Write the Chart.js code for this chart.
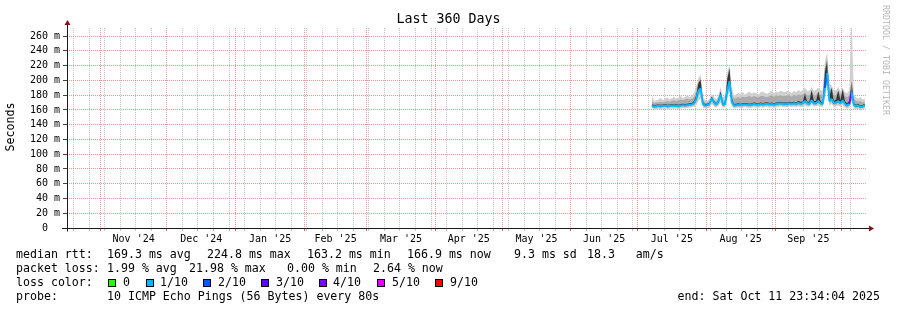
<!DOCTYPE html>
<html>
<head>
<meta charset="utf-8">
<script src="https://cdn.jsdelivr.net/npm/chart.js@4.4.1/dist/chart.umd.min.js"></script>
<style>
  body { margin: 0; background: #fff; }
  #wrap { position: relative; width: 897px; height: 310px; overflow: hidden;
          font-family: "DejaVu Sans Mono", monospace; color: #000; }
  #chart { position: absolute; left: 0; top: 0; }
  .t { position: absolute; white-space: pre; font-size: 11.6px; line-height: 14px; }
  .sq { position: absolute; width: 6px; height: 6px; border: 1px solid #000; top: 279px; }
</style>
</head>
<body>
<div id="wrap">
  <canvas id="chart" width="897" height="310"></canvas>

  <div class="t" style="left:0;width:897px;top:11px;text-align:center;font-size:13.3px;line-height:16px;">Last 360 Days</div>
  <div class="t" style="left:-19px;top:120px;width:58px;text-align:center;transform:rotate(-90deg);">Seconds</div>
  <div class="t" style="left:831px;top:55px;width:110px;text-align:center;font-size:8.3px;line-height:10px;color:#b8b8b8;transform:rotate(90deg);">RRDTOOL / TOBI OETIKER</div>

  <!-- legend -->
  <div class="t" style="left:16px;top:247px;">median rtt:</div>
  <div class="t" style="left:107px;top:247px;">169.3 ms avg</div>
  <div class="t" style="left:207px;top:247px;">224.8 ms max</div>
  <div class="t" style="left:307px;top:247px;">163.2 ms min</div>
  <div class="t" style="left:407px;top:247px;">166.9 ms now</div>
  <div class="t" style="left:514px;top:247px;">9.3 ms sd</div>
  <div class="t" style="left:587px;top:247px;">18.3   am/s</div>

  <div class="t" style="left:16px;top:261px;">packet loss:</div>
  <div class="t" style="left:107px;top:261px;">1.99 % avg</div>
  <div class="t" style="left:189px;top:261px;">21.98 % max</div>
  <div class="t" style="left:287px;top:261px;">0.00 % min</div>
  <div class="t" style="left:373px;top:261px;">2.64 % now</div>

  <div class="t" style="left:16px;top:275px;">loss color:</div>
  <div class="sq" style="left:108px;background:#26ff00;"></div><div class="t" style="left:123px;top:275px;">0</div>
  <div class="sq" style="left:146px;background:#00b8ff;"></div><div class="t" style="left:160px;top:275px;">1/10</div>
  <div class="sq" style="left:203px;background:#0059ff;"></div><div class="t" style="left:218px;top:275px;">2/10</div>
  <div class="sq" style="left:261px;background:#5e00ff;"></div><div class="t" style="left:276px;top:275px;">3/10</div>
  <div class="sq" style="left:319px;background:#7e00ff;"></div><div class="t" style="left:333px;top:275px;">4/10</div>
  <div class="sq" style="left:377px;background:#dd00ff;"></div><div class="t" style="left:392px;top:275px;">5/10</div>
  <div class="sq" style="left:435px;background:#ff0000;"></div><div class="t" style="left:450px;top:275px;">9/10</div>

  <div class="t" style="left:16px;top:289px;">probe:</div>
  <div class="t" style="left:107px;top:289px;">10 ICMP Echo Pings (56 Bytes) every 80s</div>
  <div class="t" style="right:17px;top:289px;">end: Sat Oct 11 23:34:04 2025</div>
</div>

<script>
// graph covers 360 days ending Sat Oct 11 23:34:04 2025
const graphEnd = Date.UTC(2025, 9, 11, 23, 34, 4);
const graphDays = 360;
const graphStart = graphEnd - graphDays * 864e5;

// month boundaries (red grid lines) and the month names centred between them
const monthStarts = ["2024-11-01", "2024-12-01", "2025-01-01", "2025-02-01", "2025-03-01", "2025-04-01",
                     "2025-05-01", "2025-06-01", "2025-07-01", "2025-08-01", "2025-09-01", "2025-10-01"];
const monthLabels = ["Nov '24", "Dec '24", "Jan '25", "Feb '25", "Mar '25", "Apr '25",
                     "May '25", "Jun '25", "Jul '25", "Aug '25", "Sep '25"];
const firstWeekLine = "2024-10-20";

// y axis in milliseconds
const yMax = 271;
const yTicks = [0, 10, 20, 30, 40, 50, 60, 70, 80, 90, 100, 110, 120, 130, 140,
                150, 160, 170, 180, 190, 200, 210, 220, 230, 240, 250, 260, 270];
const yLabelStep = 20;

// smokeping data, one value per day (ms); first point is day 263.5 of the graph
const dataStartDay = 263.5;

const median = [166, 164.5, 165, 165.5, 165, 165.5, 166, 165, 165.5, 166,
  165.5, 166, 165, 166, 166.5, 166, 166.5, 167, 167.5, 169,
  174, 186, 189, 168, 166, 166.5, 168, 176, 170, 167,
  171, 181, 167, 168, 186, 199, 171, 166, 166.5, 167,
  166.5, 167, 167.5, 167, 166.5, 167, 168, 167.5, 167, 168,
  167.5, 168, 168.5, 167.5, 168, 167, 168, 168.5, 169, 168,
  168.5, 168, 169, 168.5, 169, 168, 169.5, 168.5, 169, 172,
  169, 168, 173, 169, 169, 172, 169, 168, 190, 210,
  172, 175, 169, 170, 172, 169, 173, 168, 166, 168,
  184, 167, 165, 166, 164, 165, 166];

const pingMax = [180, 172, 173, 174, 176, 173, 175, 177, 174, 176,
  178, 175, 177, 179, 176, 178, 180, 177, 179, 183,
  192, 203, 208, 178, 173, 172, 175, 182, 178, 174,
  180, 191, 177, 179, 210, 222, 190, 180, 181, 183,
  182, 184, 181, 183, 185, 182, 184, 183, 181, 184,
  185, 183, 182, 184, 186, 183, 185, 184, 186, 185,
  184, 186, 185, 183, 186, 184, 187, 185, 187, 190,
  186, 186, 191, 186, 187, 190, 187, 186, 226, 238,
  196, 193, 187, 186, 191, 185, 190, 184, 183, 186,
  290, 181, 177, 175, 177, 174, 176];

const pingMidHi = [172, 169, 170, 170, 171, 170, 171, 172, 171, 172,
  173, 172, 173, 174, 173, 174, 175, 174, 175, 177,
  185, 198, 203, 174, 170, 170, 172, 179, 174, 171,
  176, 186, 172, 174, 204, 217, 182, 175, 176, 177,
  176, 178, 177, 178, 179, 177, 179, 178, 177, 179,
  179, 178, 177, 179, 180, 178, 180, 179, 180, 179,
  179, 180, 180, 178, 181, 179, 181, 180, 181, 184,
  180, 180, 186, 180, 180, 185, 181, 180, 218, 230,
  186, 190, 180, 181, 187, 180, 188, 179, 177, 180,
  200, 176, 172, 171, 172, 170, 171];

const pingInnerHi = [168, 166.5, 167, 167.5, 167, 167.5, 168, 167, 167.5, 168,
  167.5, 168, 167, 168, 168.5, 168, 168.5, 169, 169.5, 172,
  180, 196, 201, 170, 168, 168.5, 170, 178, 172, 169,
  173, 185, 169, 170, 202, 216, 176, 168, 168.5, 169,
  168.5, 169, 169.5, 169, 168.5, 169, 170, 169.5, 169, 170,
  169.5, 170, 170.5, 169.5, 170, 169, 170, 170.5, 171, 170,
  170.5, 170, 171, 170.5, 171, 170, 172, 171, 171, 182,
  171, 171, 187, 172, 172, 185, 172, 170, 212, 226,
  178, 190, 172, 174, 186, 173, 188, 172, 169, 172,
  198, 169, 167, 168, 166, 167, 168];

const pingMidLo = [164, 162.5, 163, 163.5, 163, 163.5, 164, 163, 163.5, 164,
  163.5, 164, 163, 164, 164.5, 164, 164.5, 165, 165.5, 166.5,
  170, 180, 184, 165.5, 164, 164.5, 165.5, 172, 167.5, 165,
  168, 176, 165, 165.5, 180, 192, 168, 164, 164.5, 165,
  164.5, 165, 165.5, 165, 164.5, 165, 165.5, 165, 164.5, 165.5,
  165, 165.5, 166, 165, 165.5, 164.5, 165.5, 166, 166.5, 165.5,
  166, 165.5, 166.5, 166, 166.5, 165.5, 167, 166, 166.5, 169,
  166.5, 166, 170, 166.5, 166.5, 169, 166.5, 165.5, 184, 202,
  169, 171, 166.5, 167, 169, 166.5, 170, 165.5, 163.5, 165.5,
  178, 164.5, 162.5, 163.5, 161.5, 162.5, 163.5];

const pingMin = [162, 160.5, 161, 161.5, 161, 161.5, 162, 161, 161.5, 162,
  161.5, 162, 161, 162, 162.5, 162, 162.5, 163, 163.5, 164,
  166, 172, 176, 163, 162, 162.5, 163, 168, 165, 163,
  165, 170, 163, 163, 174, 186, 165, 162, 162.5, 163,
  162.5, 163, 163.5, 163, 162.5, 163, 163.5, 163, 162.5, 163.5,
  163, 163.5, 164, 163, 163.5, 162.5, 163.5, 164, 164.5, 163.5,
  164, 163.5, 164.5, 164, 164.5, 163.5, 165, 164, 164, 166,
  164.5, 164, 167, 164.5, 164.5, 166, 164.5, 163.5, 178, 194,
  166, 168, 164, 164.5, 166, 164, 167, 163, 161.5, 163,
  172, 162, 160.5, 161.5, 159.5, 160.5, 161.5];

// lost pings out of 10 for each day, picks the median colour
const lossTenths = [1, 1, 1, 1, 1, 1, 1, 1, 1, 1,
  1, 1, 1, 1, 1, 1, 1, 1, 1, 1,
  1, 1, 1, 1, 1, 1, 1, 1, 1, 1,
  1, 1, 1, 1, 1, 1, 1, 1, 1, 1,
  1, 1, 1, 1, 1, 1, 1, 1, 1, 1,
  1, 1, 1, 1, 1, 1, 1, 1, 1, 1,
  1, 1, 1, 1, 1, 1, 1, 1, 1, 1,
  1, 1, 1, 1, 1, 1, 1, 1, 1, 2,
  1, 1, 1, 1, 1, 1, 1, 1, 1, 1,
  4, 1, 1, 1, 1, 1, 1];
const lossColors = ["#26ff00", "#00b8ff", "#0059ff", "#5e00ff", "#7e00ff", "#dd00ff",
                    "#dd00ff", "#ff0000", "#ff0000", "#ff0000", "#ff0000"];

const dayOf = s => (Date.parse(s + "T00:00:00Z") - graphStart) / 864e5;
const toPoints = arr => arr.map((v, i) => ({ x: dataStartDay + i, y: v }));

// month lines live on their own axis, weeks and month names on the main x axis
const monthTicks = monthStarts.map(dayOf);
const weekTicks = [];
for (let d = dayOf(firstWeekLine); d < graphDays; d += 7) {
  if (!monthTicks.some(m => Math.abs(m - d) < 0.5)) weekTicks.push(d);
}
const labelTicks = monthLabels.map((lab, i) => ({ value: (monthTicks[i] + monthTicks[i + 1]) / 2, label: lab }));
const xTicks = weekTicks.map(v => ({ value: v, kind: "week" }))
  .concat(monthTicks.map(v => ({ value: v, kind: "month" })))
  .concat(labelTicks.map(t => ({ value: t.value, kind: "label", label: t.label })))
  .sort((a, b) => a.value - b.value);
const xKind = v => xTicks.find(t => Math.abs(t.value - v) < 1e-6) || { kind: "none" };

const gridMinor = "rgba(150,150,150,0.55)";
const gridMajor = "rgba(235,80,80,0.6)";
const clear = "rgba(0,0,0,0)";
const axisColor = "#1a1a1a";
const arrowColor = "#7f1515";

// axis lines running past the plot, with arrow heads
const axisArrows = {
  id: "axisArrows",
  afterDraw(chart) {
    const { ctx, chartArea: a } = chart;
    const yb = Math.round(a.bottom) + 0.5;
    const xl = Math.round(a.left) + 0.5;
    ctx.save();
    ctx.strokeStyle = axisColor;
    ctx.lineWidth = 1;
    ctx.beginPath();
    ctx.moveTo(62, yb); ctx.lineTo(a.right + 4, yb);
    ctx.moveTo(xl, yb + 3); ctx.lineTo(xl, a.top - 4);
    ctx.stroke();
    ctx.fillStyle = arrowColor;
    ctx.beginPath();
    ctx.moveTo(a.right + 8, yb); ctx.lineTo(a.right + 3, yb - 3); ctx.lineTo(a.right + 3, yb + 3);
    ctx.closePath(); ctx.fill();
    ctx.beginPath();
    ctx.moveTo(xl, a.top - 8); ctx.lineTo(xl - 3, a.top - 3); ctx.lineTo(xl + 3, a.top - 3);
    ctx.closePath(); ctx.fill();
    ctx.restore();
  }
};

const band = (data, color, order, fill) => ({
  data: toPoints(data), borderWidth: 0, pointRadius: 0, backgroundColor: color,
  fill: fill, order: order, tension: 0
});

new Chart(document.getElementById("chart"), {
  type: "line",
  data: {
    datasets: [
      band(pingMin, clear, 9, false),
      band(pingMax, "#d0d0d0", 8, "-1"),
      band(pingMidLo, clear, 7, false),
      band(pingMidHi, "#ababab", 6, "-1"),
      {
        data: toPoints(median), borderWidth: 2, pointRadius: 0, tension: 0, order: 1,
        borderColor: "#00b8ff", borderJoinStyle: "bevel", fill: false,
        segment: { borderColor: c => lossColors[lossTenths[c.p1DataIndex]] }
      },
      band(pingInnerHi, "#363636", 3, "-1")
    ]
  },
  options: {
    responsive: false,
    maintainAspectRatio: false,
    animation: false,
    devicePixelRatio: 1,
    layout: { padding: { top: 28, right: 31, bottom: 60, left: 0 } },
    plugins: { legend: { display: false }, tooltip: { enabled: false }, title: { display: false } },
    scales: {
      x: {
        type: "linear",
        min: 0,
        max: graphDays,
        weight: 0,
        afterBuildTicks: axis => { axis.ticks = xTicks.map(t => ({ value: t.value })); },
        afterFit: axis => { axis.height = 22; },
        grid: {
          color: c => xKind(c.tick.value).kind === "week" ? gridMinor : clear,
          tickColor: c => {
            const k = xKind(c.tick.value).kind;
            return k === "month" ? "#e06060" : k === "week" ? "#c0c0c0" : clear;
          },
          tickLength: 3,
          lineWidth: 1
        },
        border: { display: false, dash: [1, 1] },
        ticks: {
          autoSkip: false, maxRotation: 0, minRotation: 0, padding: 2,
          color: "#000",
          font: { family: "DejaVu Sans Mono", size: 10 },
          callback: v => {
            const t = xKind(v);
            return t.kind === "label" ? t.label : "";
          }
        }
      },
      xMonths: {
        type: "linear",
        position: "bottom",
        min: 0,
        max: graphDays,
        weight: 1,
        afterBuildTicks: axis => { axis.ticks = monthTicks.map(v => ({ value: v })); },
        afterFit: axis => { axis.height = 0; },
        grid: { color: gridMajor, lineWidth: 1, drawTicks: false },
        border: { display: false, dash: [1, 1] },
        ticks: { display: false }
      },
      y: {
        min: 0,
        max: yMax,
        afterBuildTicks: axis => { axis.ticks = yTicks.map(v => ({ value: v })); },
        afterFit: axis => { axis.width = 67; },
        grid: {
          color: c => c.tick.value === 0 ? clear
                    : c.tick.value % yLabelStep === 0 ? gridMajor : gridMinor,
          tickColor: c => c.tick.value % yLabelStep === 0 ? "#444" : clear,
          tickLength: 4,
          lineWidth: 1
        },
        border: { display: false, dash: [1, 1] },
        ticks: {
          padding: 3,
          color: "#000",
          font: { family: "DejaVu Sans Mono", size: 10 },
          // zero has no unit, so its digit lines up with the units digit above
          callback: v => v === 0 ? "0  " : (v % yLabelStep === 0 ? v + " m" : "")
        }
      }
    }
  },
  plugins: [axisArrows]
});
</script>
</body>
</html>
